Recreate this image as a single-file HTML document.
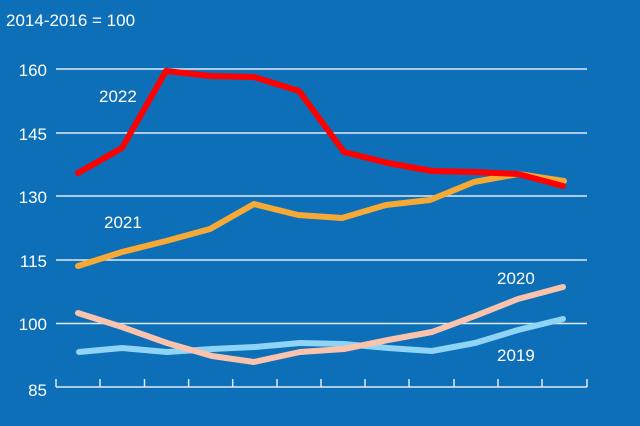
<!DOCTYPE html>
<html><head><style>
html,body{margin:0;padding:0;background:#0c6fb8;}
svg{display:block}
text{font-family:"Liberation Sans",sans-serif;fill:#fff;font-size:17px}
</style></head><body>
<svg width="640" height="426" viewBox="0 0 640 426">
<rect width="640" height="426" fill="#0c6fb8"/>
<g stroke="#dfe9f5" stroke-width="1.5">
<line x1="56" y1="69" x2="587" y2="69"/>
<line x1="56" y1="133" x2="587" y2="133"/>
<line x1="56" y1="196" x2="587" y2="196"/>
<line x1="56" y1="260" x2="587" y2="260"/>
<line x1="56" y1="323.5" x2="587" y2="323.5"/>
<line x1="56" y1="387" x2="587" y2="387"/>
<path d="M56 379V387M100 379V387M144.5 379V387M188.6 379V387M232.7 379V387M277 379V387M321 379V387M365 379V387M409 379V387M454 379V387M498 379V387M542 379V387M587 379V387"/>
</g>
<g text-anchor="end">
<text x="47" y="76">160</text>
<text x="47" y="140">145</text>
<text x="47" y="203">130</text>
<text x="47" y="267">115</text>
<text x="47" y="330">100</text>
<text x="47" y="396">85</text>
</g>
<text x="6" y="26">2014-2016 = 100</text>
<g fill="none" stroke-width="6" stroke-linejoin="round" stroke-linecap="round">
<polyline stroke="#8fd3f5" points="79,352 122,348 167,352 212,349 255,347 300,343 344,344 388,348 432,351 475,343 518,330 563,319"/>
<polyline stroke="#f9c3ad" points="78,313 122,327 167,343 212,356 254,362 300,352 344,349 388,340 432,332 475,316 518,299 563,287"/>
<polyline stroke="#f7a935" points="78,266 122,252 166,241 210,229 254,204 298,215 342,218 386,205 430,200 474,182 518,174 564,181"/>
<polyline stroke="#ff0000" points="78,173 122,148 166,71 211,76 254,77 299,91 344,152 388,163 432,171 475,172 518,174 563,186"/>
</g>
<text x="99" y="102">2022</text>
<text x="104" y="228">2021</text>
<text x="497" y="284">2020</text>
<text x="497" y="361">2019</text>
</svg>
</body></html>
